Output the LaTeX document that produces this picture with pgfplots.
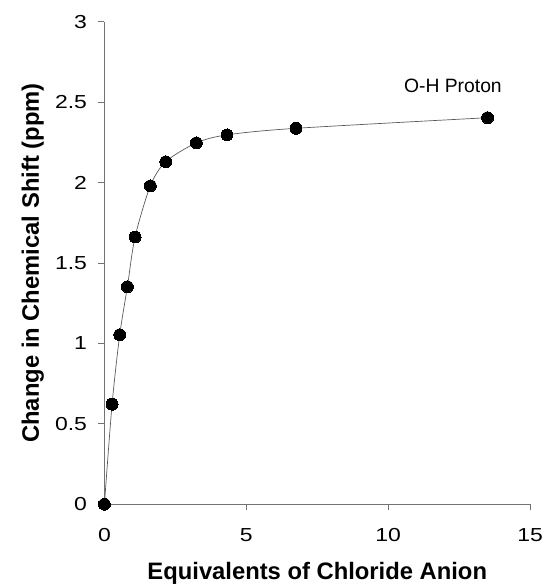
\documentclass[border=0pt]{standalone}
\usepackage{pgfplots}
\pgfplotsset{compat=1.18}
\usepackage{fontspec}
\setmainfont{Liberation Sans}
\newfontfamily\tickfam[FakeStretch=1.22]{Liberation Sans}
\newcommand{\tickfont}{\tickfam\fontsize{19}{21}\selectfont}
\begin{document}
\begin{tikzpicture}[x=1bp,y=1bp]
\begin{axis}[
  at={(0,0)}, anchor=south west,
  scale only axis,
  width=428bp, height=485bp,
  xmin=0, xmax=15, ymin=0, ymax=3,
  xtick={0,5,10,15}, ytick={0,0.5,1,1.5,2,2.5,3},
  axis x line*=bottom, axis y line*=left,
  axis line style={draw=black!55, line width=0.8pt},
  tick style={draw=black!55, line width=0.8pt},
  tick align=outside,
  major tick length=6bp,
  /pgf/number format/assume math mode=true,
  xticklabel={\tickfont\pgfmathprintnumber{\tick}},
  yticklabel={\tickfont\pgfmathprintnumber{\tick}},
  xticklabel style={yshift=-15bp},
  yticklabel shift=8bp,
  xlabel={Equivalents of Chloride Anion},
  ylabel={Change in Chemical Shift (ppm)},
  xlabel style={font=\fontsize{24}{26}\selectfont\bfseries, at={(axis description cs:0.5,-0.1566)}, anchor=base},
  ylabel style={font=\fontsize{24}{26}\selectfont\bfseries, at={(axis description cs:-0.1542,0.5)}, anchor=base},
  clip=false,
]
\addplot[black!65, line width=0.7pt, smooth, tension=0.5, mark=*, mark size=6bp,
  mark options={fill=black, draw=black, line width=0pt}]
  coordinates {
  (0,0) (0.27,0.622) (0.54,1.054) (0.81,1.353) (1.08,1.662) (1.62,1.98)
  (2.16,2.13) (3.24,2.247) (4.32,2.297) (6.75,2.338) (13.5,2.404)
  };
\node[font=\fontsize{19.5}{21}\selectfont] at (axis cs:12.28,2.60) {O-H Proton};
\end{axis}
\useasboundingbox (-105,-81) rectangle (442,507);
\end{tikzpicture}
\end{document}
